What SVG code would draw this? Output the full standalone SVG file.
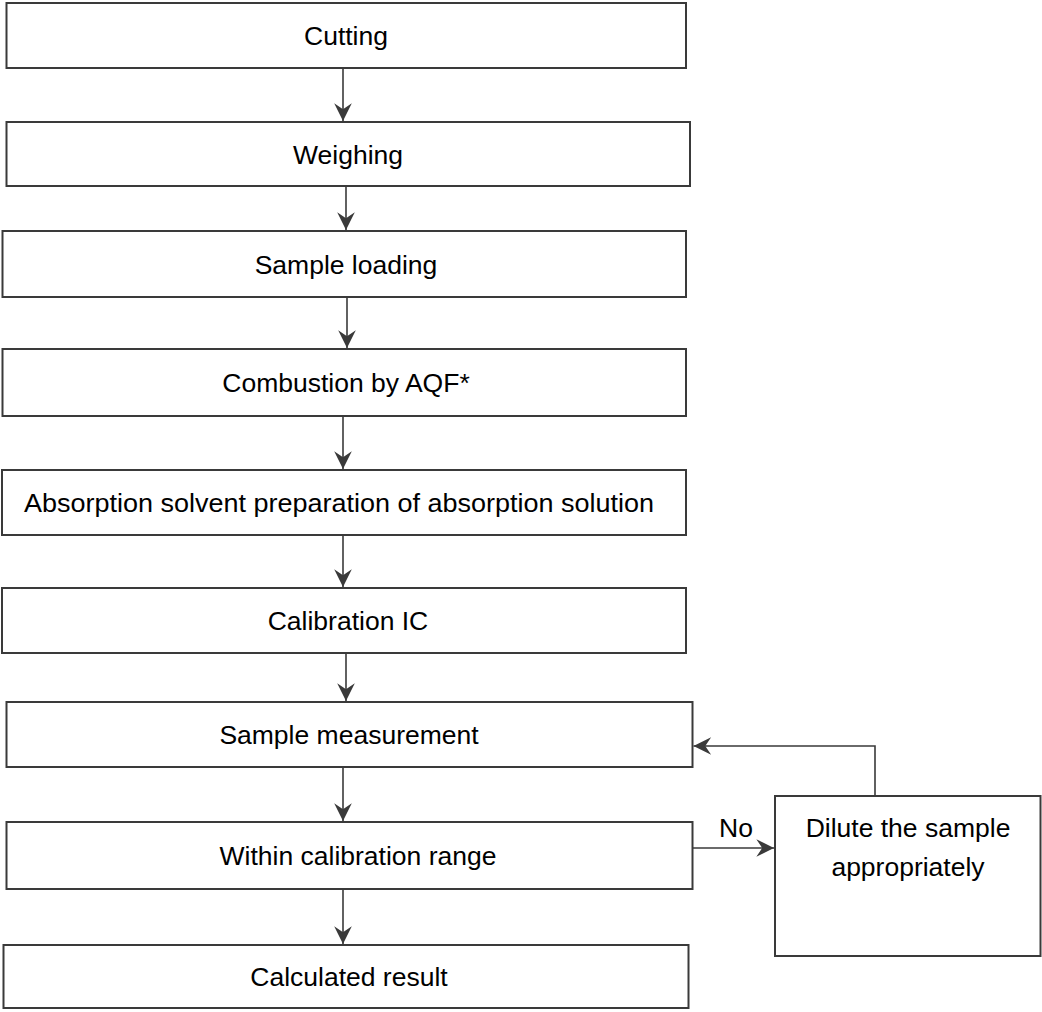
<svg xmlns="http://www.w3.org/2000/svg" width="1042" height="1012" viewBox="0 0 1042 1012">
<style>
.box{fill:#fff;stroke:#3a3a3a;stroke-width:2}
.t{font-family:"Liberation Sans",Arial,sans-serif;font-size:26.5px;fill:#000;text-anchor:middle}
.c{fill:none;stroke:#3a3a3a;stroke-width:1.6}
</style>
<defs>
<marker id="ah" markerUnits="userSpaceOnUse" markerWidth="20" markerHeight="20" refX="0" refY="0" viewBox="-16 -8 17 16" orient="auto" overflow="visible">
<path d="M0,0 L-15,-7.5 L-10,0 L-15,7.5 Z" fill="#3a3a3a"/>
</marker>
</defs>
<rect width="1042" height="1012" fill="#fff"/>
<g id="n1"><rect class="box" x="6.5" y="3" width="679.5" height="65"/><text class="t" x="346" y="45">Cutting</text></g>
<g id="n2"><rect class="box" x="6.5" y="122" width="683.5" height="64"/><text class="t" x="348" y="163.5">Weighing</text></g>
<g id="n3"><rect class="box" x="2.5" y="231" width="683.5" height="66"/><text class="t" x="346" y="273.5">Sample loading</text></g>
<g id="n4"><rect class="box" x="2.5" y="349" width="683.5" height="67"/><text class="t" x="346" y="392">Combustion by AQF*</text></g>
<g id="n5"><rect class="box" x="2" y="470" width="684" height="65"/><text class="t" x="24" y="512" style="text-anchor:start" textLength="630" lengthAdjust="spacingAndGlyphs">Absorption solvent preparation of absorption solution</text></g>
<g id="n6"><rect class="box" x="2" y="588" width="684" height="65"/><text class="t" x="348" y="630">Calibration IC</text></g>
<g id="n7"><rect class="box" x="6.5" y="702" width="686" height="65"/><text class="t" x="349" y="744">Sample measurement</text></g>
<g id="n8"><rect class="box" x="6.5" y="822" width="686" height="67"/><text class="t" x="358" y="865">Within calibration range</text></g>
<g id="n9"><rect class="box" x="3.5" y="945" width="685" height="63"/><text class="t" x="349" y="986">Calculated result</text></g>
<g id="n10"><rect class="box" x="775" y="796" width="265.5" height="160"/><text class="t" x="908" y="837">Dilute the sample</text><text class="t" x="908" y="876">appropriately</text></g>
<g id="connectors">
<line class="c" x1="343" y1="68" x2="343" y2="121" marker-end="url(#ah)"/>
<line class="c" x1="346" y1="186" x2="346" y2="230" marker-end="url(#ah)"/>
<line class="c" x1="347" y1="297" x2="347" y2="348" marker-end="url(#ah)"/>
<line class="c" x1="343" y1="416" x2="343" y2="469" marker-end="url(#ah)"/>
<line class="c" x1="343" y1="535" x2="343" y2="587" marker-end="url(#ah)"/>
<line class="c" x1="346" y1="653" x2="346" y2="701" marker-end="url(#ah)"/>
<line class="c" x1="343" y1="767" x2="343" y2="821" marker-end="url(#ah)"/>
<line class="c" x1="343" y1="889" x2="343" y2="944" marker-end="url(#ah)"/>
<line class="c" x1="692.5" y1="848" x2="774" y2="848" marker-end="url(#ah)"/>
<polyline class="c" points="875,796 875,746 693.5,746" marker-end="url(#ah)"/>
<text class="t" x="736" y="837">No</text>
</g>
</svg>
